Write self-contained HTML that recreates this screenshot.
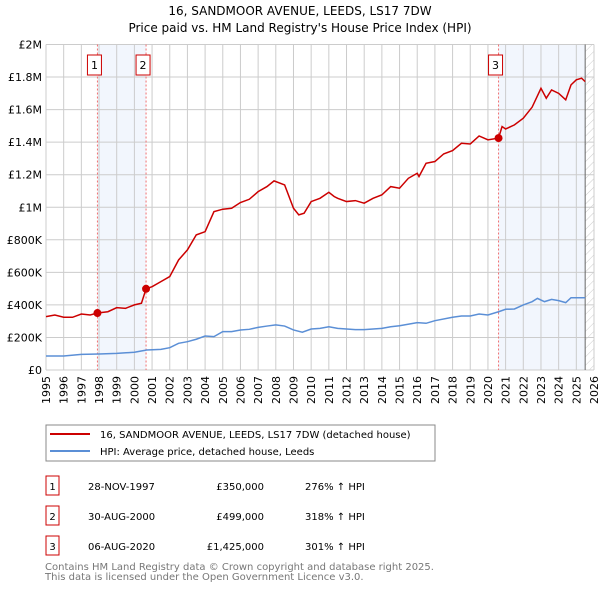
<!DOCTYPE html>
<html><head><meta charset="utf-8"><style>
body{margin:0;background:#fff;font-family:"DejaVu Sans","Liberation Sans",sans-serif;}
svg text{font-family:"DejaVu Sans","Liberation Sans",sans-serif;}
</style></head><body>
<svg id="c" width="600" height="590" xmlns="http://www.w3.org/2000/svg">
<defs><pattern id="hatch" width="6" height="6" patternUnits="userSpaceOnUse" patternTransform="rotate(45)"><line x1="0" y1="0" x2="0" y2="6" stroke="#ccc" stroke-width="1"/></pattern></defs>
<text x="300" y="15" text-anchor="middle" font-size="12">16, SANDMOOR AVENUE, LEEDS, LS17 7DW</text>
<text x="300" y="32" text-anchor="middle" font-size="12">Price paid vs. HM Land Registry's House Price Index (HPI)</text>
<g id="plot"></g>
<rect x="46" y="425" width="389" height="36" fill="#fff" stroke="#888"/>
<line x1="50" y1="434" x2="90" y2="434" stroke="#cc0000" stroke-width="2"/>
<text x="100" y="438" font-size="10">16, SANDMOOR AVENUE, LEEDS, LS17 7DW (detached house)</text>
<line x1="50" y1="451" x2="90" y2="451" stroke="#5b8fd6" stroke-width="2"/>
<text x="100" y="455" font-size="10">HPI: Average price, detached house, Leeds</text>
<g id="table"></g>
<text x="45" y="570" font-size="10" fill="#777">Contains HM Land Registry data © Crown copyright and database right 2025.</text>
<text x="45" y="580" font-size="10" fill="#777">This data is licensed under the Open Government Licence v3.0.</text>
</svg>
<script>
const redYears=[1995,1995.5,1996,1996.5,1997,1997.5,1997.91,1998.5,1999,1999.5,2000,2000.4,2000.66,2001,2001.5,2002,2002.5,2003,2003.5,2004,2004.5,2005,2005.5,2006,2006.5,2007,2007.5,2007.9,2008.5,2009,2009.3,2009.6,2010,2010.5,2011,2011.3,2011.5,2012,2012.5,2013,2013.5,2014,2014.5,2015,2015.5,2016,2016.1,2016.5,2017,2017.5,2018,2018.5,2019,2019.5,2020,2020.6,2020.8,2021,2021.5,2022,2022.5,2023,2023.3,2023.6,2024,2024.4,2024.7,2025,2025.3,2025.5];
const redValues=[328,338,324,324,344,338,350,358,383,379,400,410,499,512,543,574,676,738,830,850,973,988,994,1029,1049,1096,1127,1162,1137,994,953,963,1035,1055,1092,1066,1055,1035,1041,1025,1055,1076,1127,1117,1178,1209,1189,1270,1281,1328,1348,1393,1389,1438,1414,1425,1496,1481,1506,1547,1615,1731,1670,1721,1700,1660,1752,1783,1793,1772];
const hpiYears=[1995,1996,1997,1998,1999,2000,2000.7,2001.5,2002,2002.5,2003,2003.5,2004,2004.5,2005,2005.5,2006,2006.5,2007,2007.5,2008,2008.5,2009,2009.5,2010,2010.5,2011,2011.5,2012,2012.5,2013,2014,2014.5,2015,2016,2016.5,2017,2018,2018.5,2019,2019.5,2020,2020.6,2021,2021.5,2022,2022.5,2022.8,2023.2,2023.6,2024,2024.4,2024.7,2025.5];
const hpiValues=[86,86,96,98,102,109,123,127,137,164,174,189,209,205,236,236,246,250,262,270,277,270,246,232,252,256,266,256,252,248,248,256,266,272,291,287,303,324,332,332,344,338,358,373,375,400,420,440,420,434,426,414,444,444];
const saleLabels=["1","2","3"];
const saleYears=[1997.91,2000.66,2020.6];
const saleValues=[350,499,1425];
const saleDates=["28-NOV-1997","30-AUG-2000","06-AUG-2020"];
const salePrices=["£350,000","£499,000","£1,425,000"];
const saleHpi=["276% ↑ HPI","318% ↑ HPI","301% ↑ HPI"];
const yTicks=[0,200,400,600,800,1000,1200,1400,1600,1800,2000];
const yTickLabels=["£0","£200K","£400K","£600K","£800K","£1M","£1.2M","£1.4M","£1.6M","£1.8M","£2M"];
const xTicks=[1995,1996,1997,1998,1999,2000,2001,2002,2003,2004,2005,2006,2007,2008,2009,2010,2011,2012,2013,2014,2015,2016,2017,2018,2019,2020,2021,2022,2023,2024,2025,2026];

const NS="http://www.w3.org/2000/svg";
const X0=46,X1=594,Y0=370,Y1=44.5;
const xs=y=>X0+(y-1995)/(2026-1995)*(X1-X0);
const ys=v=>Y0-v/2000*(Y0-Y1);
const plot=document.getElementById('plot');
function mk(tag,attrs,parent){const e=document.createElementNS(NS,tag);for(const k in attrs)e.setAttribute(k,attrs[k]);(parent||plot).appendChild(e);return e;}
let e;
e=mk('rect',{x:xs(saleYears[0]),y:Y1,width:xs(saleYears[1])-xs(saleYears[0]),height:Y0-Y1,fill:'#f2f6fd'});


e=mk('rect',{x:xs(saleYears[2]),y:Y1,width:xs(2025.5)-xs(saleYears[2]),height:Y0-Y1,fill:'#f2f6fd'});


e=mk('rect',{x:xs(2025.5),y:Y1,width:X1-xs(2025.5),height:Y0-Y1,fill:'url(#hatch)'});


xTicks.forEach(t=>{
 e=mk('line',{x1:xs(t),x2:xs(t),y1:Y1,y2:Y0,stroke:'#ccc','stroke-width':1});
 
 
 e=mk('text',{x:0,y:0,'font-size':11,'text-anchor':'end',transform:`translate(${xs(t)+4},${Y0+6}) rotate(-90)`});
 e.textContent=t;
 
 
});
yTicks.forEach((t,i)=>{
 e=mk('line',{x1:X0,x2:X1,y1:ys(t),y2:ys(t),stroke:'#ccc','stroke-width':1});
 
 
 e=mk('text',{x:X0-4,y:ys(t)+4,'font-size':11,'text-anchor':'end'});
 e.textContent=yTickLabels[i];
 
 
});
e=mk('line',{x1:xs(2025.5),x2:xs(2025.5),y1:Y1,y2:Y0,stroke:'#666','stroke-width':1});


saleYears.forEach((y,i)=>{
 e=mk('line',{x1:xs(y),x2:xs(y),y1:Y1,y2:Y0,stroke:'#f07070','stroke-width':1,'stroke-dasharray':'2,2'});
 
 
 const cx=xs(y)-3;
 e=mk('rect',{x:cx-7,y:55,width:14,height:20,fill:'#fff',stroke:'#cc0000'});
 
 
 e=mk('text',{x:cx,y:69,'font-size':11,'text-anchor':'middle'});
 e.textContent=saleLabels[i];
 
 
});
e=mk('polyline',{points:hpiYears.map((y,i)=>xs(y)+','+ys(hpiValues[i])).join(' '),fill:'none',stroke:'#5b8fd6','stroke-width':1.5});


e=mk('polyline',{points:redYears.map((y,i)=>xs(y)+','+ys(redValues[i])).join(' '),fill:'none',stroke:'#cc0000','stroke-width':1.5});


saleYears.forEach((y,i)=>{
 e=mk('circle',{cx:xs(y),cy:ys(saleValues[i]),r:4,fill:'#cc0000'});
 
 
});
const tb=document.getElementById('table');
saleLabels.forEach((l,i)=>{
 const yy=476+i*30;
 e=mk('rect',{x:46,y:yy,width:13,height:19,fill:'#fff',stroke:'#cc0000'},tb);
 
 
 e=mk('text',{x:52.5,y:yy+14,'font-size':10,'text-anchor':'middle'},tb);e.textContent=l;
 
 
 e=mk('text',{x:88,y:yy+14,'font-size':10},tb);e.textContent=saleDates[i];
 
 
 e=mk('text',{x:264,y:yy+14,'font-size':10,'text-anchor':'end'},tb);e.textContent=salePrices[i];
 
 
 e=mk('text',{x:305,y:yy+14,'font-size':10},tb);e.textContent=saleHpi[i];
 
 
});
</script>
</body></html>
